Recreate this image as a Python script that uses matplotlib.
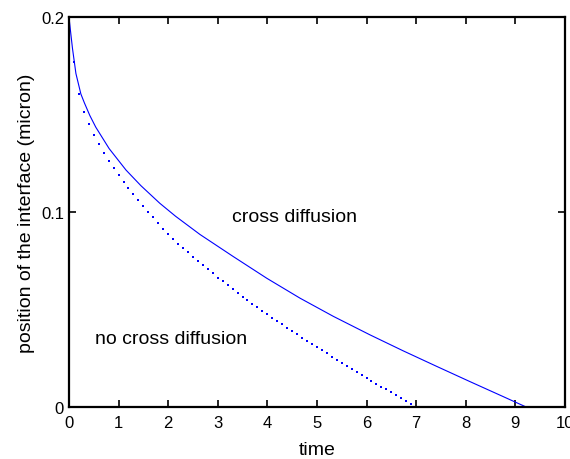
import numpy as np
import matplotlib
matplotlib.use('Agg')
import matplotlib.pyplot as plt

plt.rcParams['font.family'] = ['Liberation Sans', 'DejaVu Sans']

# cross diffusion (solid line)
t_cross = [0.0, 0.03, 0.07, 0.14, 0.24, 0.31, 0.42, 0.54, 0.81, 1.15, 1.45,
           1.83, 2.15, 2.64, 3.31, 3.99, 4.66, 5.33, 6.07, 6.74, 7.41, 8.08,
           8.76, 9.22]
v_cross = [0.2, 0.193, 0.184, 0.171, 0.1605, 0.156, 0.1495, 0.1435, 0.1325,
           0.1215, 0.1135, 0.1045, 0.0978, 0.0885, 0.0772, 0.0660, 0.0558,
           0.0465, 0.0370, 0.0288, 0.0209, 0.0131, 0.0053, 0.0]

# no cross diffusion (one dot per time step of 0.1)
t_no = [i / 10 for i in range(1, 71)]
v_no = [0.1770, 0.1605, 0.1513, 0.1452, 0.1397, 0.1348, 0.1304, 0.1263,
        0.1225, 0.1189, 0.1155, 0.1123, 0.1091, 0.1060, 0.1030, 0.1001,
        0.0972, 0.0943, 0.0915, 0.0888, 0.0862, 0.0838, 0.0815, 0.0793,
        0.0771, 0.0749, 0.0727, 0.0706, 0.0685, 0.0664, 0.0644, 0.0624,
        0.0604, 0.0585, 0.0566, 0.0548, 0.0530, 0.0512, 0.0494, 0.0476,
        0.0458, 0.0441, 0.0424, 0.0407, 0.0390, 0.0373, 0.0356, 0.0339,
        0.0323, 0.0307, 0.0291, 0.0275, 0.0259, 0.0243, 0.0227, 0.0211,
        0.0196, 0.0180, 0.0165, 0.0150, 0.0135, 0.0120, 0.0105, 0.0090,
        0.0075, 0.0060, 0.0045, 0.0030, 0.0016, 0.0001]

fig = plt.figure(figsize=(5.7, 4.6), dpi=100)
ax = fig.add_axes([0.121, 0.113, 0.870, 0.848])

ax.plot(t_cross, v_cross, '-', color='blue', lw=0.8)
ax.plot(t_no, v_no, 's', color='blue', ms=1.7, mew=0, clip_on=False)

ax.text(4.55, 0.0975, 'cross diffusion', fontsize=14, ha='center', va='center')
ax.text(2.05, 0.035, 'no cross diffusion', fontsize=14, ha='center', va='center')

ax.set_xlim(0, 10)
ax.set_ylim(0, 0.2)
ax.set_xticks(np.arange(0, 11, 1))
ax.set_yticks([0, 0.1, 0.2])
ax.set_yticklabels(['0', '0.1', '0.2'])
ax.tick_params(direction='in', top=True, right=True, labelsize=12, length=5,
               width=1.2)
ax.tick_params(axis='x', pad=6)
for s in ax.spines.values():
    s.set_linewidth(1.6)

ax.set_xlabel('time', fontsize=14, labelpad=8)
ax.set_ylabel('position of the interface (micron)', fontsize=14)

fig.savefig('out.png', dpi=100)
